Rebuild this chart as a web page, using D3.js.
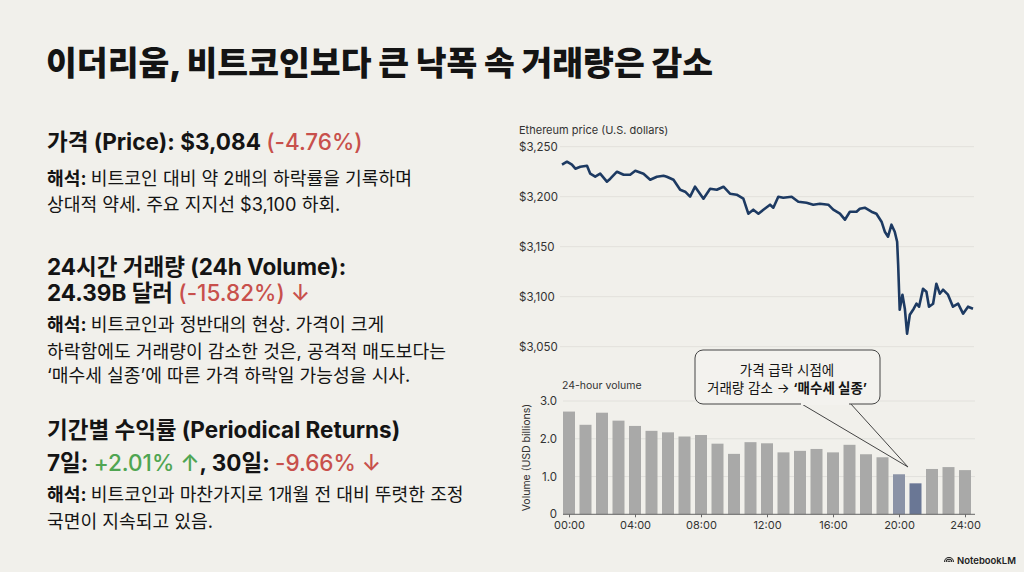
<!DOCTYPE html>
<html>
<head>
<meta charset="utf-8">
<script src="https://cdn.jsdelivr.net/npm/d3@7"></script>
<style>
  body { margin: 0; background: #f1f0eb; }
  svg { display: block; }
  text { font-family: Inter, "Noto Sans CJK KR", "Noto Sans", sans-serif; }
</style>
</head>
<body>
<script>
// price line, hours after 00:00 and USD
const priceHours = [0, 0.29, 0.58, 0.78, 1.07, 1.46, 1.65, 1.94, 2.23, 2.62, 2.82, 3.21, 3.60, 3.98, 4.28, 4.76,
  5.15, 5.54, 5.93, 6.12, 6.51, 6.90, 7.19, 7.48, 7.77, 8.26, 8.65, 9.04, 9.43, 9.81, 10.20, 10.59,
  10.88, 11.17, 11.47, 11.76, 12.15, 12.34, 12.63, 12.92, 13.41, 13.80, 14.28, 14.67, 15.06, 15.55,
  15.84, 16.23, 16.52, 16.81, 17.20, 17.39, 17.68, 18.07, 18.36, 18.66, 18.85, 19.04, 19.24, 19.43,
  19.57, 19.63, 19.72, 19.88, 20.02, 20.15, 20.31, 20.54, 20.70, 20.85, 21.08, 21.28, 21.43, 21.67,
  21.86, 22.06, 22.25, 22.54, 22.83, 23.13, 23.42, 23.71, 24];
const priceValues = [3232, 3235, 3232, 3228, 3230, 3231, 3223, 3220, 3223, 3215, 3218, 3225, 3222, 3222, 3226, 3223,
  3217, 3220, 3221, 3220, 3217, 3207, 3205, 3200, 3210, 3198, 3208, 3207, 3210, 3203, 3202, 3198,
  3183, 3187, 3183, 3187, 3192, 3189, 3200, 3199, 3200, 3195, 3194, 3192, 3193, 3192,
  3187, 3183, 3177, 3185, 3185, 3188, 3189, 3185, 3183, 3175, 3165, 3160, 3172, 3165,
  3155, 3132, 3087, 3102, 3088, 3063, 3082, 3088, 3093, 3090, 3108, 3105, 3090, 3093,
  3113, 3103, 3107, 3102, 3090, 3093, 3083, 3090, 3088];
const priceTicks = [3050, 3100, 3150, 3200, 3250];

// hourly volume, USD billions
const volHours = d3.range(0, 25);
const volValues = [2.72, 2.37, 2.69, 2.48, 2.34, 2.21, 2.17, 2.06, 2.10, 1.87, 1.60, 1.91, 1.88,
  1.64, 1.68, 1.73, 1.64, 1.84, 1.59, 1.51, 1.06, 0.82, 1.20, 1.25, 1.17];
const volTicks = [0, 1, 2, 3];
const hourTicks = [0, 4, 8, 12, 16, 20, 24];
const dropHours = [20, 21];

const W = 1024, H = 572;
const ink = "#141414", red = "#c8504c", green = "#4fa552", axisInk = "#333";

const svg = d3.select("body").append("svg")
  .attr("width", W)
  .attr("height", H);

svg.append("rect").attr("width", W).attr("height", H).attr("fill", "#f1f0eb");

// title
svg.append("text")
  .attr("x", 46).attr("y", 75)
  .attr("font-size", 33.5).attr("font-weight", 900).attr("fill", ink)
  .attr("font-family", "'Noto Sans CJK KR', sans-serif")
  .text("이더리움, 비트코인보다 큰 낙폭 속 거래량은 감소");

// left column: rich lines built from [text, color, weight] parts
function richLine(y, size, parts) {
  const t = svg.append("text")
    .attr("x", 47).attr("y", y)
    .attr("font-size", size).attr("fill", ink);
  parts.forEach(p => {
    t.append("tspan")
      .attr("fill", p[1] || ink)
      .attr("font-weight", p[2] || 400)
      .text(p[0]);
  });
}

const H2 = 22.5, BODY = 18.2;
richLine(150, H2, [["가격 (Price): $3,084 ", ink, 700], ["(-4.76%)", red, 500]]);
richLine(185, BODY, [["해석: ", ink, 700], ["비트코인 대비 약 2배의 하락률을 기록하며"]]);
richLine(211, BODY, [["상대적 약세. 주요 지지선 $3,100 하회."]]);

richLine(275, H2, [["24시간 거래량 (24h Volume):", ink, 700]]);
richLine(301, H2, [["24.39B 달러 ", ink, 700], ["(-15.82%) ↓", red, 500]]);
richLine(331, BODY, [["해석: ", ink, 700], ["비트코인과 정반대의 현상. 가격이 크게"]]);
richLine(358, BODY, [["하락함에도 거래량이 감소한 것은, 공격적 매도보다는"]]);
richLine(382, BODY, [["‘매수세 실종’에 따른 가격 하락일 가능성을 시사."]]);

richLine(438, H2, [["기간별 수익률 (Periodical Returns)", ink, 700]]);
richLine(471, H2, [["7일: ", ink, 700], ["+2.01% ↑", green, 500], [", 30일: ", ink, 700], ["-9.66% ↓", red, 500]]);
richLine(501, BODY, [["해석: ", ink, 700], ["비트코인과 마찬가지로 1개월 전 대비 뚜렷한 조정"]]);
richLine(528, BODY, [["국면이 지속되고 있음."]]);

// price chart
const px = d3.scaleLinear().domain([0, 24]).range([562, 973]);
const py = d3.scaleLinear().domain([3050, 3250]).range([346.7, 146.7]);

const pg = svg.append("g");
pg.selectAll("line.grid").data(priceTicks).join("line")
  .attr("class", "grid")
  .attr("x1", 560).attr("x2", 974)
  .attr("y1", d => py(d)).attr("y2", d => py(d))
  .attr("stroke", "#e2e1dc").attr("stroke-width", 1);
pg.selectAll("text.tick").data(priceTicks).join("text")
  .attr("class", "tick")
  .attr("x", 519).attr("y", d => py(d))
  .attr("dy", "0.35em")
  .attr("font-size", 11.5).attr("fill", axisInk)
  .text(d => "$" + d3.format(",")(d));
pg.append("text")
  .attr("x", 519).attr("y", 134)
  .attr("font-size", 11).attr("fill", axisInk)
  .text("Ethereum price (U.S. dollars)");

const line = d3.line()
  .x((d, i) => px(priceHours[i]))
  .y(d => py(d));
pg.append("path")
  .datum(priceValues)
  .attr("d", line)
  .attr("fill", "none")
  .attr("stroke", "#1d3a62")
  .attr("stroke-width", 2.6)
  .attr("stroke-linejoin", "round");

// volume chart
const vx = d3.scaleLinear().domain([0, 24]).range([569, 965]);
const vy = d3.scaleLinear().domain([0, 3]).range([514.3, 401]);
const vg = svg.append("g");

vg.selectAll("line.grid").data(volTicks.slice(1)).join("line")
  .attr("class", "grid")
  .attr("x1", 563).attr("x2", 975)
  .attr("y1", d => vy(d)).attr("y2", d => vy(d))
  .attr("stroke", "#e2e1dc");

vg.selectAll("rect").data(volValues).join("rect")
  .attr("x", (d, i) => vx(volHours[i]) - 6)
  .attr("width", 12)
  .attr("y", d => vy(d))
  .attr("height", d => vy(0) - vy(d))
  .attr("fill", (d, i) => dropHours.includes(volHours[i])
    ? (volHours[i] === 20 ? "#8b93a6" : "#6a7795")
    : "#a9a9a8");

vg.append("g")
  .attr("transform", `translate(0,${vy(0)})`)
  .call(d3.axisBottom(vx).tickValues(hourTicks).tickSize(3).tickPadding(4)
    .tickFormat(d => d3.format("02")(d) + ":00"))
  .call(g => g.select(".domain").attr("d", "M563,0H975").attr("stroke", "#666"))
  .call(g => g.selectAll(".tick line").attr("stroke", "#666"))
  .call(g => g.selectAll(".tick text").attr("font-size", 11).attr("fill", axisInk)
    .attr("font-family", "Inter, sans-serif"));

vg.selectAll("text.vt").data(volTicks).join("text")
  .attr("class", "vt")
  .attr("x", 557).attr("y", d => vy(d))
  .attr("dy", "0.35em").attr("text-anchor", "end")
  .attr("font-size", 11.5).attr("fill", axisInk)
  .text(d => d === 0 ? "0" : d3.format(".1f")(d));

vg.append("text")
  .attr("transform", `translate(526,${vy(1.5)}) rotate(-90)`)
  .attr("text-anchor", "middle").attr("dy", "0.35em")
  .attr("font-size", 10.5).attr("fill", axisInk)
  .text("Volume (USD billions)");
vg.append("text")
  .attr("x", 562).attr("y", 389)
  .attr("font-size", 10.5).attr("fill", axisInk)
  .text("24-hour volume");

// callout
const tip = [908, 467];
const ag = svg.append("g");
ag.append("path")
  .attr("d", `M800,403 L${tip[0]},${tip[1]} M850,403 L${tip[0]},${tip[1]}`)
  .attr("stroke", "#444").attr("stroke-width", 1).attr("fill", "none");
ag.append("rect")
  .attr("x", 695).attr("y", 350).attr("width", 185).attr("height", 54)
  .attr("rx", 8)
  .attr("fill", "#f3f2ee").attr("stroke", "#444").attr("stroke-width", 1);
ag.append("rect")
  .attr("x", 801).attr("y", 402).attr("width", 48).attr("height", 3)
  .attr("fill", "#f3f2ee");
ag.append("text")
  .attr("x", 787).attr("y", 375).attr("text-anchor", "middle")
  .attr("font-size", 13.5).attr("fill", ink)
  .text("가격 급락 시점에");
const at = ag.append("text")
  .attr("x", 787).attr("y", 393).attr("text-anchor", "middle")
  .attr("font-size", 13.5).attr("fill", ink);
at.append("tspan").text("거래량 감소 → ");
at.append("tspan").attr("font-weight", 700).text("‘매수세 실종’");

// logo
const lg = svg.append("g").attr("transform", "translate(949,562)");
[5, 3.3, 1.6].forEach(r => {
  lg.append("path")
    .attr("d", d3.arc().innerRadius(r - 1).outerRadius(r).startAngle(-Math.PI / 2).endAngle(Math.PI / 2)())
    .attr("fill", "#222");
});
svg.append("text")
  .attr("x", 957).attr("y", 564)
  .attr("font-size", 9.5).attr("font-weight", 600).attr("fill", "#222")
  .text("NotebookLM");
</script>
</body>
</html>
